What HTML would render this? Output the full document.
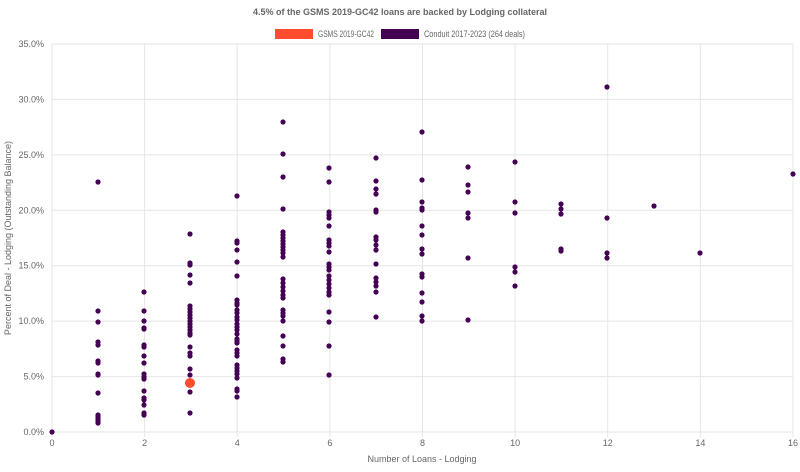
<!DOCTYPE html>
<html><head><meta charset="utf-8"><style>
body{margin:0;background:#fff;font-family:"Liberation Sans",sans-serif;}
svg text{font-family:"Liberation Sans",sans-serif;}
</style></head><body>
<svg width="800" height="467" xmlns="http://www.w3.org/2000/svg">
<text x="400" y="15" text-anchor="middle" font-size="9" font-weight="bold" fill="#666">4.5% of the GSMS 2019-GC42 loans are backed by Lodging collateral</text>
<rect x="275" y="29" width="38" height="10" fill="#ff4d2e"/>
<text x="318" y="37" font-size="9" fill="#666" textLength="56" lengthAdjust="spacingAndGlyphs">GSMS 2019-GC42</text>
<rect x="381" y="29" width="38" height="10" fill="#440154"/>
<text x="424" y="37" font-size="9" fill="#666" textLength="101" lengthAdjust="spacingAndGlyphs">Conduit 2017-2023 (264 deals)</text>
<g stroke="#e6e6e6" stroke-width="1" id="grid"></g>
<g font-size="9" fill="#666" id="labels"></g>
<g fill="#440154" id="dots"></g>
<circle cx="190" cy="383" r="5" fill="#ff4d2e"/>
<text x="422" y="462" text-anchor="middle" font-size="9" fill="#666">Number of Loans - Lodging</text>
<text transform="translate(11,238) rotate(-90)" text-anchor="middle" font-size="9" fill="#666">Percent of Deal - Lodging (Outstanding Balance)</text>
</svg>
<script>
var ns="http://www.w3.org/2000/svg",g=document.getElementById('grid'),l=document.getElementById('labels'),d=document.getElementById('dots');
function el(p,t,a,txt){var e=document.createElementNS(ns,t);for(var k in a)e.setAttribute(k,a[k]);if(txt)e.textContent=txt;p.appendChild(e);}
for(var i=0;i<=7;i++){var y=432-i*5*11.086;el(g,'line',{x1:52,x2:793,y1:y,y2:y});el(l,'text',{x:44,y:y+3,'text-anchor':'end'},(i*5).toFixed(1)+'%');}
for(var i=0;i<=16;i+=2){var x=52+i*46.31;el(g,'line',{x1:x,x2:x,y1:44,y2:437});el(l,'text',{x:x,y:446,'text-anchor':'middle'},''+i);}
var xs={0:52,1:98,2:144,3:190,4:237,5:283,6:329,7:376,8:422,9:468,10:515,11:561,12:607,13:654,14:700,16:793};
var data={0:[432],1:[182,311,322,342,345,361,363,374,375,393,415,417,419,421,423],
2:[292,311,321,328,329,345,347,356,363,374,377,379,391,398,400,405,413,415],
3:[234,263,265,275,283,306,309,312,315,318,321,324,327,330,333,335,347,353,356,369,375,382,392,413],
4:[196,241,243,250,262,276,300,303,305,310,313,317,320,324,327,330,334,339,341,343,350,353,356,365,368,371,374,378,389,391,397],
5:[122,154,177,209,232,235,238,241,244,247,250,253,257,279,283,287,291,295,298,310,313,316,321,336,346,359,362],
6:[168,182,212,215,218,226,240,243,246,252,264,267,270,276,280,284,288,292,295,312,322,346,375],
7:[158,181,189,194,210,212,237,240,245,250,264,278,282,286,292,317],
8:[132,180,202,208,210,226,235,249,254,274,277,293,302,316,321],
9:[167,185,192,213,218,258,320],10:[162,202,213,267,272,286],
11:[204,209,214,249,251],12:[87,218,253,258],13:[206],14:[253],16:[174]};
for(var k in data)data[k].forEach(function(y){el(d,'circle',{cx:xs[k],cy:y,r:2.6});});
</script>
</body></html>
